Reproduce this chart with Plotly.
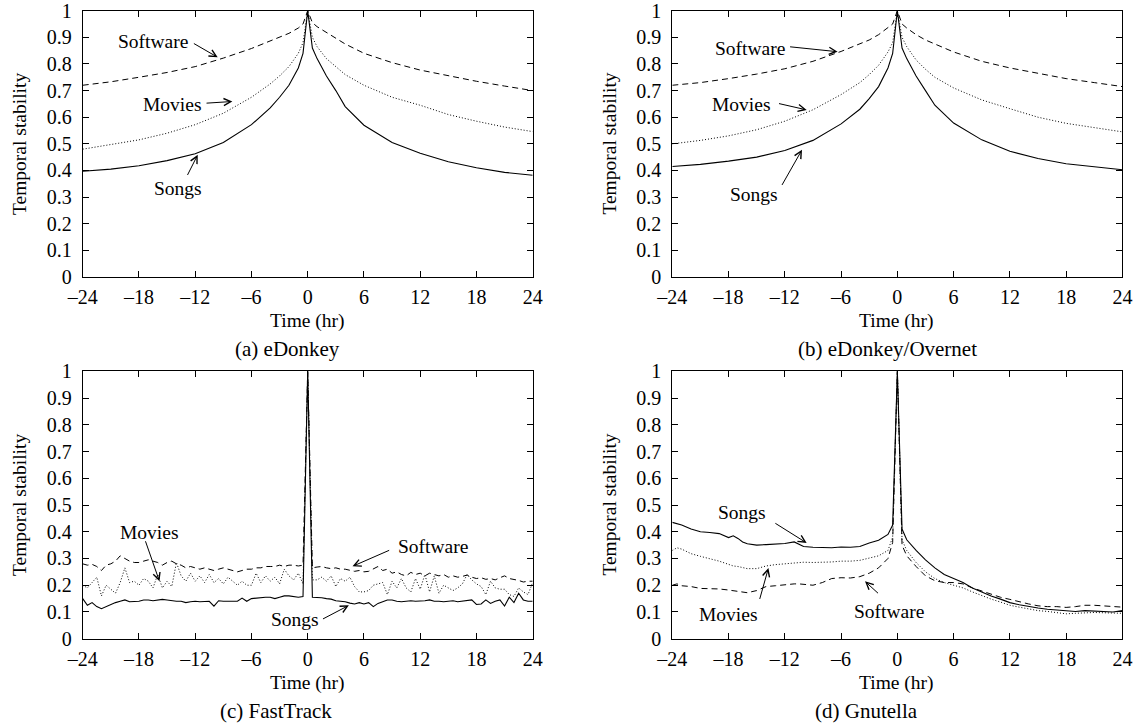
import plotly.graph_objects as go

# ---------------- data ----------------
TICK_X = [-24, -18, -12, -6, 0, 6, 12, 18, 24]
TICK_X_TEXT = ["\u201324", "\u201318", "\u201312", "\u20136", "0", "6", "12", "18", "24"]

# (a) eDonkey and (b) eDonkey/Overnet share this hour grid
HOURS_AB = [-24, -21, -18, -15, -12, -9, -6, -4, -3, -2, -1, -0.5, 0,
            0.5, 1, 2, 3, 4, 6, 9, 12, 15, 18, 21, 24]

a_software = [0.72, 0.733, 0.75, 0.768, 0.79, 0.822, 0.858, 0.885, 0.9, 0.915, 0.935, 0.95, 1.0,
              0.955, 0.94, 0.918, 0.895, 0.875, 0.84, 0.805, 0.777, 0.755, 0.735, 0.717, 0.70]
a_movies = [0.48, 0.497, 0.515, 0.54, 0.572, 0.615, 0.675, 0.725, 0.755, 0.79, 0.84, 0.88, 1.0,
            0.90, 0.865, 0.82, 0.79, 0.76, 0.72, 0.675, 0.645, 0.61, 0.585, 0.563, 0.546]
a_songs = [0.397, 0.405, 0.418, 0.437, 0.463, 0.505, 0.572, 0.635, 0.675, 0.72, 0.785, 0.84, 1.0,
           0.86, 0.82, 0.755, 0.70, 0.64, 0.57, 0.505, 0.465, 0.433, 0.41, 0.393, 0.382]

b_software = [0.72, 0.73, 0.745, 0.762, 0.782, 0.81, 0.847, 0.875, 0.89, 0.91, 0.935, 0.95, 1.0,
              0.95, 0.935, 0.91, 0.89, 0.875, 0.845, 0.81, 0.785, 0.765, 0.745, 0.73, 0.715]
b_movies = [0.50, 0.513, 0.53, 0.553, 0.585, 0.628, 0.685, 0.73, 0.76, 0.795, 0.845, 0.88, 1.0,
            0.90, 0.865, 0.815, 0.78, 0.75, 0.71, 0.665, 0.632, 0.60, 0.577, 0.56, 0.545]
b_songs = [0.415, 0.423, 0.435, 0.45, 0.475, 0.513, 0.575, 0.63, 0.67, 0.715, 0.785, 0.84, 1.0,
           0.86, 0.82, 0.755, 0.70, 0.645, 0.578, 0.515, 0.472, 0.445, 0.425, 0.413, 0.403]

# (c) FastTrack: half-hour samples from -24 to 24
HOURS_C = [h / 2 for h in range(-48, 49)]
c_songs = [0.15, 0.125, 0.135, 0.12, 0.112, 0.12, 0.125, 0.135, 0.14, 0.145, 0.138, 0.14,
           0.14, 0.145, 0.145, 0.142, 0.145, 0.147, 0.145, 0.142, 0.14, 0.14, 0.135, 0.138,
           0.14, 0.138, 0.14, 0.14, 0.122, 0.142, 0.14, 0.14, 0.142, 0.14, 0.152, 0.14,
           0.15, 0.152, 0.155, 0.155, 0.155, 0.15, 0.155, 0.16, 0.16, 0.158, 0.155, 0.158,
           1.0,
           0.155, 0.155, 0.153, 0.15, 0.148, 0.142, 0.14, 0.138, 0.133, 0.13, 0.135, 0.13,
           0.135, 0.12, 0.132, 0.14, 0.145, 0.145, 0.14, 0.138, 0.14, 0.142, 0.14, 0.14,
           0.142, 0.145, 0.14, 0.14, 0.138, 0.14, 0.142, 0.138, 0.14, 0.142, 0.145, 0.128,
           0.13, 0.145, 0.132, 0.14, 0.145, 0.122, 0.155, 0.135, 0.17, 0.145, 0.14, 0.14]
c_movies = [0.20, 0.19, 0.21, 0.23, 0.16, 0.20, 0.185, 0.17, 0.21, 0.265, 0.21, 0.215,
            0.20, 0.225, 0.215, 0.19, 0.24, 0.19, 0.215, 0.195, 0.285, 0.235, 0.215, 0.245,
            0.215, 0.235, 0.21, 0.24, 0.21, 0.225, 0.205, 0.23, 0.215, 0.20, 0.215, 0.20,
            0.20, 0.245, 0.21, 0.235, 0.215, 0.23, 0.205, 0.26, 0.235, 0.22, 0.245, 0.205,
            1.0,
            0.22, 0.22, 0.23, 0.215, 0.235, 0.195, 0.225, 0.215, 0.23, 0.195, 0.175, 0.175,
            0.18, 0.20, 0.205, 0.21, 0.165, 0.215, 0.19, 0.225, 0.19, 0.175, 0.225, 0.185,
            0.24, 0.175, 0.235, 0.17, 0.20, 0.19, 0.18, 0.19, 0.205, 0.24, 0.22, 0.205,
            0.195, 0.165, 0.215, 0.19, 0.185, 0.185, 0.165, 0.158, 0.19, 0.175, 0.165, 0.21]
c_software = [0.28, 0.275, 0.278, 0.27, 0.255, 0.275, 0.28, 0.29, 0.31, 0.30, 0.29, 0.285,
              0.285, 0.29, 0.295, 0.29, 0.285, 0.275, 0.285, 0.29, 0.28, 0.275, 0.265, 0.27,
              0.265, 0.26, 0.265, 0.26, 0.255, 0.26, 0.265, 0.26, 0.255, 0.25, 0.255, 0.26,
              0.26, 0.265, 0.265, 0.27, 0.27, 0.27, 0.275, 0.27, 0.275, 0.275, 0.272, 0.275,
              1.0,
              0.265, 0.268, 0.27, 0.265, 0.262, 0.265, 0.26, 0.26, 0.255, 0.252, 0.255, 0.25,
              0.252, 0.262, 0.27, 0.255, 0.26, 0.245, 0.25, 0.24, 0.235, 0.248, 0.24, 0.245,
              0.235, 0.245, 0.24, 0.235, 0.24, 0.23, 0.235, 0.23, 0.233, 0.238, 0.23, 0.225,
              0.228, 0.222, 0.225, 0.22, 0.228, 0.235, 0.225, 0.222, 0.218, 0.212, 0.215, 0.215]

# (d) Gnutella
HOURS_D = [-24, -23.5, -23, -22, -21, -20, -19, -18, -17.5, -17, -16.5, -16, -15, -14, -13,
           -12, -11, -10.5, -10, -9, -8, -7, -6, -5, -4, -3, -2, -1, -0.5, 0,
           0.5, 1, 2, 3, 4, 5, 6, 7, 8, 9, 10, 11, 12, 13, 14, 15, 16, 17, 18, 19, 20,
           21, 22, 23, 24]
d_songs = [0.435, 0.43, 0.425, 0.41, 0.40, 0.397, 0.393, 0.378, 0.385, 0.375, 0.362, 0.355,
           0.35, 0.352, 0.355, 0.356, 0.362, 0.352, 0.345, 0.342, 0.342, 0.34, 0.343, 0.342,
           0.345, 0.358, 0.368, 0.39, 0.425, 1.0,
           0.41, 0.37, 0.33, 0.295, 0.265, 0.24, 0.225, 0.21, 0.19, 0.175, 0.16, 0.148, 0.135,
           0.127, 0.12, 0.115, 0.11, 0.108, 0.105, 0.102, 0.105, 0.103, 0.10, 0.10, 0.105]
d_movies = [0.33, 0.34, 0.335, 0.318, 0.308, 0.30, 0.29, 0.278, 0.272, 0.27, 0.265, 0.262,
            0.262, 0.272, 0.277, 0.28, 0.284, 0.286, 0.286, 0.285, 0.285, 0.287, 0.29, 0.29,
            0.293, 0.302, 0.31, 0.33, 0.38, 1.0,
            0.37, 0.33, 0.285, 0.25, 0.225, 0.21, 0.20, 0.19, 0.175, 0.16, 0.148, 0.137, 0.125,
            0.118, 0.112, 0.105, 0.102, 0.097, 0.093, 0.095, 0.097, 0.098, 0.097, 0.095, 0.095]
d_software = [0.20, 0.205, 0.198, 0.195, 0.188, 0.187, 0.186, 0.182, 0.18, 0.178, 0.175, 0.172,
              0.18, 0.195, 0.198, 0.202, 0.205, 0.205, 0.203, 0.20, 0.21, 0.225, 0.228, 0.227,
              0.232, 0.245, 0.265, 0.30, 0.36, 1.0,
              0.35, 0.31, 0.27, 0.235, 0.217, 0.21, 0.21, 0.205, 0.19, 0.178, 0.165, 0.155, 0.147,
              0.138, 0.13, 0.123, 0.12, 0.12, 0.117, 0.12, 0.125, 0.125, 0.122, 0.12, 0.118]

CAPTIONS = ["(a) eDonkey", "(b) eDonkey/Overnet", "(c) FastTrack", "(d) Gnutella"]
SERIES = ["Songs", "Movies", "Software"]

# ---------------- layout helpers ----------------
W, H = 1141, 727
FONT = "Liberation Serif"
FS = 20
FL = 19.5


def px(x):
    return x / W


def py(y):
    return 1 - y / H


# plot boxes in pixels: (left, right, top, bottom)
BOXES = [(82.7, 532.7, 10.7, 277), (672.3, 1122.4, 10.7, 277),
         (82.7, 532.7, 371.3, 638.7), (672.3, 1122.4, 371.3, 638.7)]

panels = [
    (HOURS_AB, a_songs, a_movies, a_software),
    (HOURS_AB, b_songs, b_movies, b_software),
    (HOURS_C, c_songs, c_movies, c_software),
    (HOURS_D, d_songs, d_movies, d_software),
]
dashes = ["solid", "1px,2px", "6px,4px"]

fig = go.Figure()
for i, (xs, s, m, sw) in enumerate(panels):
    ax = "" if i == 0 else str(i + 1)
    for name, ys, dash in zip(SERIES, [s, m, sw], dashes):
        fig.add_trace(go.Scatter(
            x=xs, y=ys, mode="lines", name=name, showlegend=False,
            line=dict(color="black", width=1.1 if dash == "solid" else 1.0, dash=dash),
            xaxis="x" + ax, yaxis="y" + ax, hoverinfo="skip"))

layout = dict(width=W, height=H, margin=dict(l=0, r=0, t=0, b=0, autoexpand=False),
              plot_bgcolor="white", paper_bgcolor="white",
              font=dict(family=FONT, size=FS, color="black"), showlegend=False)

for i, (l, r, t, b) in enumerate(BOXES):
    ax = "" if i == 0 else str(i + 1)
    layout["xaxis" + ax] = dict(
        domain=[px(l), px(r)], range=[-24, 24], anchor="y" + ax,
        tickmode="array", tickvals=TICK_X, ticktext=TICK_X_TEXT,
        ticks="inside", ticklen=6, tickwidth=1, tickcolor="black",
        showline=True, linecolor="black", linewidth=1, mirror="ticks",
        showgrid=False, zeroline=False, ticklabelstandoff=2,
        ticklabeloverflow="allow",
        tickfont=dict(family=FONT, size=FS, color="black"))
    layout["yaxis" + ax] = dict(
        domain=[py(b), py(t)], range=[0, 1], anchor="x" + ax,
        tick0=0, dtick=0.1,
        ticks="inside", ticklen=6, tickwidth=1, tickcolor="black",
        showline=True, linecolor="black", linewidth=1, mirror="ticks",
        showgrid=False, zeroline=False, ticklabelstandoff=6,
        ticklabeloverflow="allow",
        tickfont=dict(family=FONT, size=FS, color="black"))

fig.update_layout(**layout)

ann = []
# axis titles and captions (pixel positions)
ytitle_pos = [(20, 144), (609.6, 144), (20, 505), (609.6, 505)]
xtitle_pos = [(307.7, 321.5), (897, 321.5), (307.7, 683), (897, 683)]
cap_pos = [(287, 349), (887, 349), (276, 711), (866, 711)]
CENTER = dict(xanchor="center", yanchor="middle")
for i in range(4):
    ann.append(dict(text="Temporal stability", x=px(ytitle_pos[i][0]), y=py(ytitle_pos[i][1]),
                    xref="paper", yref="paper", showarrow=False, textangle=-90,
                    font=dict(family=FONT, size=FL), **CENTER))
    ann.append(dict(text="Time (hr)", x=px(xtitle_pos[i][0]), y=py(xtitle_pos[i][1]),
                    xref="paper", yref="paper", showarrow=False,
                    font=dict(family=FONT, size=FL), **CENTER))
    ann.append(dict(text=CAPTIONS[i], x=px(cap_pos[i][0]), y=py(cap_pos[i][1]),
                    xref="paper", yref="paper", showarrow=False,
                    font=dict(family=FONT, size=FS + 1), **CENTER))

# series labels: (panel, text, text_x, text_y, tail_x, tail_y, tip_x, tip_y) in data coords
labels = [
    (0, "Software", -16.5, 0.884, -12.3, 0.88, -9.6, 0.825),
    (0, "Movies", -14.4, 0.649, -10.95, 0.6525, -8.04, 0.659),
    (0, "Songs", -13.8, 0.334, -12.9, 0.3775, -11.73, 0.459),
    (1, "Software", -15.7, 0.859, -11.6, 0.865, -6.37, 0.846),
    (1, "Movies", -16.6, 0.649, -12.78, 0.6525, -9.67, 0.6275),
    (1, "Songs", -15.3, 0.309, -12.39, 0.34, -10.17, 0.4775),
    (2, "Movies", -16.9, 0.398, -17.36, 0.37, -15.81, 0.2145),
    (2, "Software", 13.4, 0.343, 8.85, 0.333, 4.78, 0.2706),
    (2, "Songs", -1.4, 0.071, 1.47, 0.071, 4.39, 0.1247),
    (3, "Songs", -16.6, 0.4726, -13.17, 0.435, -9.67, 0.358),
    (3, "Movies", -18.06, 0.0898, -14.72, 0.143, -13.75, 0.264),
    (3, "Software", -0.85, 0.102, -1.9, 0.165, -3.45, 0.2145),
]
for (p, txt, tx, ty, ax0, ay0, hx, hy) in labels:
    a = "" if p == 0 else str(p + 1)
    ann.append(dict(text=txt, x=tx, y=ty, xref="x" + a, yref="y" + a, showarrow=False,
                    font=dict(family=FONT, size=FL), **CENTER))
    ann.append(dict(text="", x=hx, y=hy, ax=ax0, ay=ay0, xref="x" + a, yref="y" + a,
                    axref="x" + a, ayref="y" + a, showarrow=True, arrowhead=5,
                    arrowsize=1.4, arrowwidth=1, arrowcolor="black", standoff=0))

fig.update_layout(annotations=ann)
fig.write_html("out.html", config={"displayModeBar": False},
               post_script="document.body.style.margin='0px';"
                           "document.body.style.overflow='hidden';")
